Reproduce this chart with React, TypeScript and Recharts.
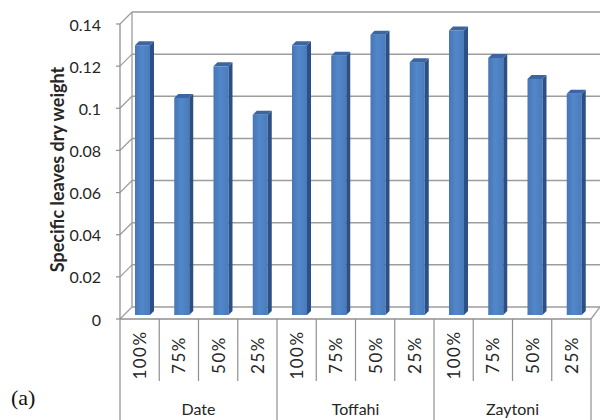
import React from 'react';
import { BarChart, Bar, XAxis, YAxis, CartesianGrid } from 'recharts';

const LEVELS = ['100%', '75%', '50%', '25%'];
const CULTIVARS = ['Date', 'Toffahi', 'Zaytoni'];
// specific leaves dry weight, cultivar by cultivar, in LEVELS order
const WEIGHTS = [
    0.128, 0.103, 0.118, 0.095,
    0.128, 0.123, 0.133, 0.120,
    0.135, 0.122, 0.112, 0.105,
];
const Y_TICKS = [0, 0.02, 0.04, 0.06, 0.08, 0.1, 0.12, 0.14];

const rows = CULTIVARS.flatMap((cultivar, i) =>
    LEVELS.map((level, j) => ({
        key: `${cultivar}-${level}`,
        cultivar,
        level,
        weight: WEIGHTS[i * LEVELS.length + j],
    }))
);

const W = 600;
const H = 420;
const PLOT_LEFT = 120;
const PLOT_TOP = 24;
const PLOT_RIGHT = 591;
const PLOT_BOTTOM = 319;
const BAND = (PLOT_RIGHT - PLOT_LEFT) / rows.length;
const DEPTH = 12; // offset of the back wall
const BAR_DEPTH = 4;
const FONT = 'Lato, "Open Sans", sans-serif';
const TEXT = '#262626';
const GRID = '#9d9d9d';
const FRAME = '#8f8f8f';

function Bar3D(props: any) {
    const { x, y, width, height } = props;
    if (height == null || height <= 0) return null;
    const fx = x + 3;
    const fy = y - BAR_DEPTH;
    const d = BAR_DEPTH;
    return (
        <g>
            <rect x={fx} y={fy} width={width} height={height} fill="url(#barFront)" />
            <polygon
                points={`${fx + width},${fy} ${fx + width + d},${fy - d} ${fx + width + d},${fy + height - d} ${fx + width},${fy + height}`}
                fill="#2c5085"
            />
            <polygon
                points={`${fx},${fy} ${fx + d},${fy - d} ${fx + width + d},${fy - d} ${fx + width},${fy}`}
                fill="#3a66a3"
            />
        </g>
    );
}

// back wall gridlines plus the diagonal from each front tick
function WallLine(props: any) {
    const { x1, y1, x2, index } = props;
    const isFloor = index === 0;
    return (
        <g key={`wall-${index}`}>
            <line x1={x1} y1={y1} x2={x1 + DEPTH} y2={y1 - DEPTH} stroke={GRID} strokeWidth={1.3} />
            <line x1={x1 + DEPTH} y1={y1 - DEPTH} x2={W} y2={y1 - DEPTH} stroke={GRID} strokeWidth={1.5} />
            {isFloor && (
                <>
                    <line x1={x2} y1={y1} x2={x2 + 9} y2={y1 - DEPTH} stroke={GRID} strokeWidth={1.3} />
                    <line
                        x1={x1 + DEPTH} y1={y1 - DEPTH}
                        x2={x1 + DEPTH} y2={PLOT_TOP - DEPTH}
                        stroke={GRID} strokeWidth={1.3}
                    />
                </>
            )}
        </g>
    );
}

function renderValueTick(props: any) {
    const { y, payload, index } = props;
    return (
        <g key={`vt-${index}`}>
            <line x1={PLOT_LEFT - 4} y1={y} x2={PLOT_LEFT} y2={y} stroke={FRAME} strokeWidth={1.2} />
            <text
                x={PLOT_LEFT - 19}
                y={y}
                textAnchor="end"
                dominantBaseline="central"
                fontFamily={FONT}
                fontSize={16}
                fill={TEXT}
            >
                {payload.value}
            </text>
        </g>
    );
}

function CategoryTick(props: any) {
    const { x, payload } = props;
    const i = payload?.index ?? props.index ?? 0;
    const row = rows[i];
    const left = x - BAND / 2;
    const groupStart = i % LEVELS.length === 0;
    const labelY = 355;
    return (
        <g>
            <line
                x1={left} y1={PLOT_BOTTOM} x2={left} y2={groupStart ? H : 381}
                stroke={FRAME} strokeWidth={1.2}
            />
            {i === rows.length - 1 && (
                <line x1={x + BAND / 2} y1={PLOT_BOTTOM} x2={x + BAND / 2} y2={H} stroke={FRAME} strokeWidth={1.2} />
            )}
            <text
                x={x}
                y={labelY}
                transform={`rotate(-90 ${x} ${labelY})`}
                textAnchor="middle"
                dominantBaseline="central"
                fontFamily={FONT}
                fontSize={17}
                letterSpacing={1.5}
                fill={TEXT}
            >
                {row.level}
            </text>
            {i % LEVELS.length === 1 && (
                <text
                    x={x + BAND / 2}
                    y={408}
                    textAnchor="middle"
                    dominantBaseline="central"
                    fontFamily={FONT}
                    fontSize={16}
                    fill={TEXT}
                >
                    {row.cultivar}
                </text>
            )}
        </g>
    );
}

function YTitle(props: any) {
    const { viewBox } = props;
    const cy = viewBox.y + viewBox.height / 2 - 2;
    const cx = 57;
    return (
        <text
            x={cx}
            y={cy}
            transform={`rotate(-90 ${cx} ${cy})`}
            textAnchor="middle"
            dominantBaseline="central"
            fontFamily={FONT}
            fontWeight={700}
            fontSize={18}
            fill={TEXT}
        >
            Specific leaves dry weight
        </text>
    );
}

export default function App() {
    return (
        <div style={{ position: 'absolute', left: 0, top: 0, width: W, height: H, background: '#fff' }}>
            <BarChart
                width={W}
                height={H}
                data={rows}
                margin={{ top: PLOT_TOP, right: W - PLOT_RIGHT, bottom: 0, left: 0 }}
                barCategoryGap={0}
            >
                <defs>
                    <linearGradient id="barFront" x1="0" y1="0" x2="1" y2="0">
                        <stop offset="0%" stopColor="#4676b6" />
                        <stop offset="45%" stopColor="#5287c9" />
                        <stop offset="100%" stopColor="#497cbd" />
                    </linearGradient>
                </defs>
                <CartesianGrid horizontal={WallLine} vertical={false} />
                <XAxis
                    dataKey="key"
                    height={H - PLOT_BOTTOM}
                    interval={0}
                    tickLine={false}
                    axisLine={{ stroke: FRAME, strokeWidth: 1.3 }}
                    tick={<CategoryTick />}
                />
                <YAxis
                    width={PLOT_LEFT}
                    domain={[0, 0.14]}
                    ticks={Y_TICKS}
                    interval={0}
                    tickLine={false}
                    axisLine={{ stroke: FRAME, strokeWidth: 1.3 }}
                    tick={renderValueTick}
                    label={<YTitle />}
                />
                <Bar dataKey="weight" barSize={15} shape={<Bar3D />} isAnimationActive={false} />
            </BarChart>
            <div
                style={{
                    position: 'absolute',
                    left: 11,
                    top: 385,
                    fontFamily: '"Liberation Serif", "DejaVu Serif", serif',
                    fontSize: 22,
                    color: '#111',
                }}
            >
                (a)
            </div>
        </div>
    );
}
